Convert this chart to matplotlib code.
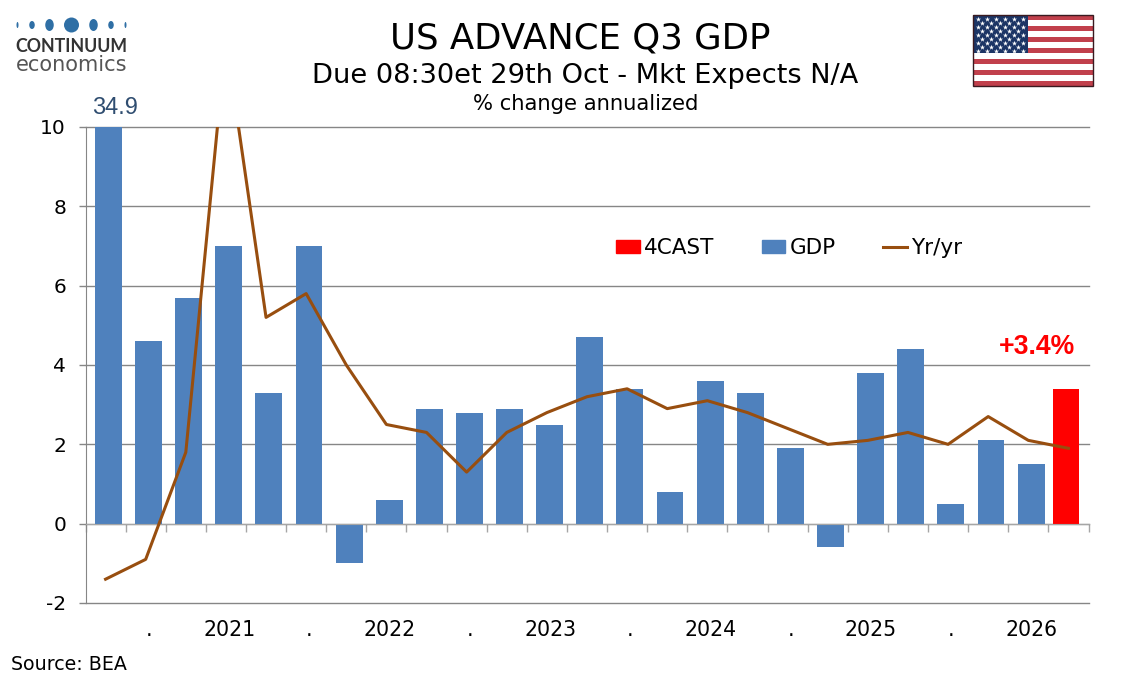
import numpy as np
import matplotlib
matplotlib.use('Agg')
import matplotlib.pyplot as plt
from matplotlib.patches import Ellipse, Rectangle, Patch
from matplotlib.lines import Line2D

plt.rcParams['axes.unicode_minus'] = False

# values, first bar is clipped by the axis (34.9)
gdp = [34.9, 4.6, 5.7, 7.0, 3.3, 7.0, -1.0, 0.6, 2.9, 2.8, 2.9, 2.5, 4.7,
       3.4, 0.8, 3.6, 3.3, 1.9, -0.6, 3.8, 4.4, 0.5, 2.1, 1.5]
forecast = [3.4]
yr_yr = [-1.4, -0.9, 1.8, 12.2, 5.2, 5.8, 4.0, 2.5, 2.3, 1.3, 2.3, 2.8, 3.2,
         3.4, 2.9, 3.1, 2.8, 2.4, 2.0, 2.1, 2.3, 2.0, 2.7, 2.1, 1.9]
year_labels = ['.', '2021', '.', '2022', '.', '2023', '.', '2024', '.', '2025', '.', '2026']

W, H = 1134, 680
BLUE = '#4f81bd'
RED = '#ff0000'
BROWN = '#984e0f'
GREY = '#868686'
TXT = 'DejaVu Sans'

fig = plt.figure(figsize=(W/100, H/100), dpi=100)

ax = fig.add_axes([85.5/W, 1-603/H, 1003/W, 476/H])
n = len(yr_yr)
xs = np.arange(n)
ax.bar(xs[:-1]+0.07, gdp, width=0.67, color=BLUE, zorder=2)
ax.bar(xs[-1:]-0.06, forecast, width=0.67, color=RED, zorder=2)
ax.plot(xs, yr_yr, color=BROWN, lw=2.2, zorder=3)
ax.set_xlim(-0.5, n-0.5)
ax.set_ylim(-2, 10)

ax.set_yticks(np.arange(-2, 11, 2))
ax.yaxis.grid(True, color=GREY, lw=1, clip_on=False)
ax.set_axisbelow(True)
ax.tick_params(axis='y', length=5, width=1, color=GREY, pad=9, labelsize=14.5)

ax.spines['top'].set_visible(False)
ax.spines['right'].set_visible(False)
ax.spines['left'].set_color(GREY)
ax.spines['bottom'].set_color('#a6a6a6')
ax.spines['bottom'].set_position(('data', 0))
ax.spines['bottom'].set_zorder(2.5)

ax.set_xticks(np.arange(1, n-1, 2)+0.08)
ax.set_xticklabels(year_labels)
ax.set_xticks(np.arange(n+1)-0.5, minor=True)
ax.tick_params(axis='x', which='major', length=0, pad=69, labelsize=14.8)
ax.tick_params(axis='x', which='minor', length=5.5, width=1, color='#a6a6a6')

# first bar is off scale, label goes above the axis
ax.annotate('%.1f' % gdp[0], xy=(0.07, 10), xytext=(5, 5.5), textcoords='offset points',
            ha='center', va='bottom', family='Liberation Sans', fontsize=17, color='#2f4d70')
ax.annotate('+3.4%', xy=(xs[-1]-0.06, forecast[0]), xytext=(-21, 20.5), textcoords='offset points',
            ha='center', va='bottom', family='Liberation Sans', fontsize=19.2, fontweight='bold', color=RED)

handles = [Patch(color=RED, label='4CAST'), Patch(color=BLUE, label='GDP'),
           Line2D([], [], color=BROWN, lw=2.2, label='Yr/yr')]
ax.legend(handles=handles, ncol=3, frameon=False, fontsize=15.5, handlelength=1.1, handleheight=0.55,
          handletextpad=0.2, columnspacing=2.2, borderpad=0, borderaxespad=0,
          loc='center left', bbox_to_anchor=((616-85.5)/1003, (603-248)/476))

# titles
fig.text(580/W, 1-38.5/H, 'US ADVANCE Q3 GDP', ha='center', va='center', fontsize=25.6, family=TXT)
fig.text(585/W, 1-76/H, 'Due 08:30et 29th Oct - Mkt Expects N/A', ha='center', va='center', fontsize=19.6, family=TXT)
fig.text(585.5/W, 1-104/H, '% change annualized', ha='center', va='center', fontsize=15.2, family=TXT)
fig.text(11/W, 1-664/H, 'Source: BEA', ha='left', va='center', fontsize=13.7, family=TXT)

# overlay in pixel coordinates for logo and flag
deco = fig.add_axes([0, 0, 1, 1], facecolor='none')
deco.set_xlim(0, W)
deco.set_ylim(H, 0)
deco.axis('off')

# logo
for cx, w, h in [(17.5, 2, 6), (32, 5.5, 8), (49.5, 8.5, 12), (71.5, 15, 15),
                 (93.5, 8.5, 12), (111, 5.5, 8), (125.5, 2, 6)]:
    deco.add_patch(Ellipse((cx, 25), w, h, color='#2f6fa5', lw=0))
deco.text(71.5, 47, 'CONTINUUM', ha='center', va='center', family='Lato', fontweight='bold',
          fontsize=12.8, color='#333333')
deco.text(71.5, 65, 'economics', ha='center', va='center', family=TXT, fontsize=15, color='#555555')

# flag
fx0, fx1, fy0, fy1 = 973, 1093, 15, 86
sh = (fy1-fy0)/13
for i in range(13):
    deco.add_patch(Rectangle((fx0, fy0+i*sh), fx1-fx0, sh, lw=0,
                             color='#c1404c' if i % 2 == 0 else 'white'))
deco.add_patch(Rectangle((fx0, fy0), 54.5, 7*sh, lw=0, color='#1c3565', zorder=3))
deco.add_patch(Rectangle((fx0, fy0), fx1-fx0, fy1-fy0, fill=False, ec='#3a1a20', lw=1, zorder=4))
star_x, star_y = [], []
for r in range(9):
    cols = 6 if r % 2 == 0 else 5
    for c in range(cols):
        star_x.append(fx0+4.5+c*9.1+(0 if r % 2 == 0 else 4.5))
        star_y.append(fy0+3.5+r*4.1)
deco.scatter(star_x, star_y, marker='*', s=15, color='white', lw=0, zorder=5)

fig.savefig('out.png', dpi=100)
